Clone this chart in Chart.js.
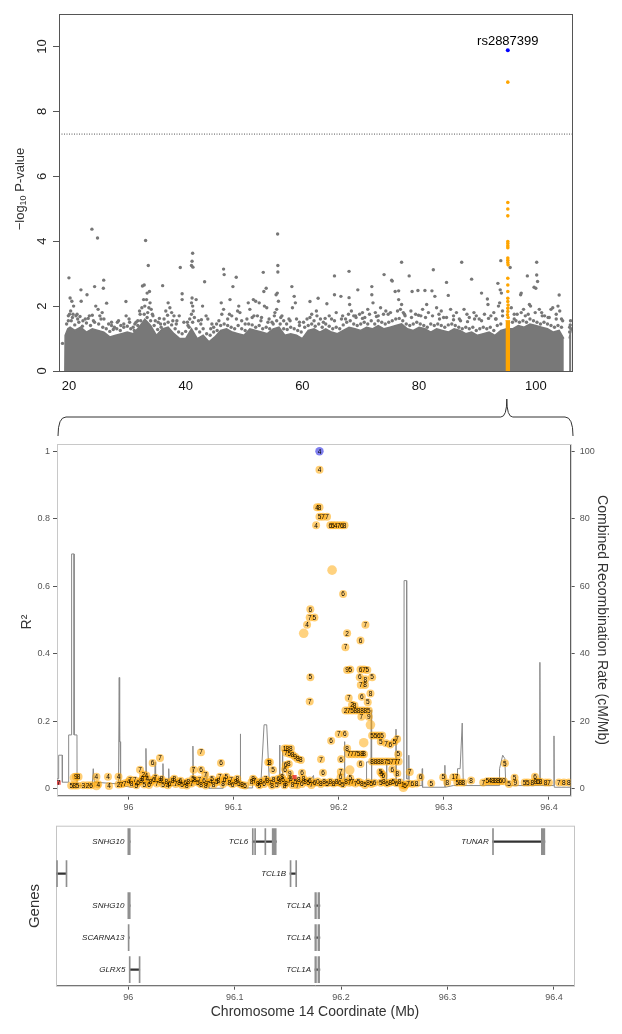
<!DOCTYPE html>
<html>
<head>
<meta charset="utf-8">
<script src="https://cdn.jsdelivr.net/npm/chart.js@4/dist/chart.umd.min.js"></script>
<style>
  body { margin: 0; background: #fff; }
  .panel { position: absolute; left: 0; }
</style>
</head>
<body>
<div class="panel" style="top:0"><canvas id="manhattan" width="622" height="440"></canvas></div>
<div class="panel" style="top:430px"><canvas id="regional" width="622" height="385"></canvas></div>
<div class="panel" style="top:815px"><canvas id="genes" width="622" height="219"></canvas></div>
<script>
// ---------- genome-wide panel (chr 14) ----------
const chrMin = 18.3, chrMax = 106.2;
const manhattanTicks = [20, 40, 60, 80, 100];
const logPTicks = [0, 2, 4, 6, 8, 10];
const gwsLine = 7.3;
const leadSnp = { name: "rs2887399", pos: 95.2, logP: 9.88 };

// upper edge of the solid cloud of SNPs (Mb, -log10 p)
const bandTop = [
  [19.3,0],[19.35,1.1],[19.8,1.3],[20.2,1.35],[21,1.25],[22,1.35],[23,1.2],[24,1.3],[25,1.25],[26,1.2],
  [27,1.05],[28,1.1],[29,1.15],[30,1.2],[31,1.15],[32,1.35],[33,1.6],[34,1.4],[35,1.1],[36,1.3],
  [37,1.35],[38,1.15],[39,1.0],[40,1.0],[41,1.3],[42,1.0],[43,1.1],[44,0.9],[45,1.05],[46,1.25],
  [47,1.3],[48,1.2],[49,1.15],[50,1.1],[51,1.3],[52,1.25],[53,1.2],[54,1.15],[55,1.3],[56,1.35],
  [57,1.1],[58,1.15],[59,1.1],[60,1.0],[61,1.25],[62,1.3],[63,1.2],[64,1.3],[65,1.2],[66,1.15],
  [67,1.25],[68,1.35],[69,1.3],[70,1.25],[71,1.35],[72,1.3],[73,1.4],[74,1.3],[75,1.35],[76,1.4],
  [77,1.45],[78,1.3],[79,1.25],[80,1.35],[81,1.3],[82,1.2],[83,1.3],[84,1.25],[85,1.2],[86,1.3],
  [87,1.25],[88,1.15],[89,1.2],[90,1.1],[91,1.15],[92,1.2],[93,1.1],[94,1.25],[95,1.3],[96,1.3],
  [97,1.4],[98,1.35],[99,1.45],[100,1.4],[101,1.35],[102,1.3],[103,1.2],[104,1.25],[104.8,1.0],
  [104.9,null],[105.6,null],[105.7,1.0],[106.1,1.3]
];

// SNPs just above the solid cloud
const edgeSnps = [
  [19.6,1.45],[20.4,1.55],[21.0,1.42],[21.7,1.5],[22.3,1.38],[23.0,1.48],[23.7,1.4],[24.4,1.5],[25.1,1.45],[25.8,1.35],
  [26.4,1.3],[27.0,1.22],[27.6,1.28],[28.2,1.3],[28.8,1.25],[29.4,1.45],[30.0,1.38],[30.6,1.3],[31.2,1.25],[31.8,1.4],
  [32.3,1.55],[32.9,1.75],[33.4,1.65],[34.0,1.55],[34.6,1.4],[35.2,1.28],[35.8,1.35],[36.4,1.45],[37.0,1.5],[37.6,1.42],
  [38.2,1.3],[38.8,1.2],[39.4,1.15],[40.0,1.22],[40.6,1.35],[41.2,1.5],[41.8,1.3],[42.4,1.2],[43.0,1.3],[43.6,1.15],
  [44.2,1.1],[44.8,1.2],[45.4,1.25],[46.0,1.4],[46.6,1.45],[47.2,1.4],[47.8,1.35],[48.4,1.3],[49.0,1.4],[49.6,1.3],
  [50.2,1.25],[50.8,1.45],[51.4,1.42],[52.0,1.35],[52.6,1.4],[53.2,1.3],[53.8,1.35],[54.4,1.3],[55.0,1.45],[55.6,1.55],
  [56.2,1.45],[56.8,1.3],[57.4,1.28],[58.0,1.35],[58.6,1.3],[59.2,1.25],[59.8,1.2],[60.4,1.35],[61.0,1.4],[61.6,1.45],
  [62.2,1.38],[62.8,1.45],[63.4,1.35],[64.0,1.45],[64.6,1.38],[65.2,1.3],[65.8,1.35],[66.4,1.3],[67.0,1.42],[67.6,1.5],
  [68.2,1.55],[68.8,1.45],[69.4,1.4],[70.0,1.45],[70.6,1.5],[71.2,1.45],[71.8,1.55],[72.4,1.45],[73.0,1.55],[73.6,1.5],
  [74.2,1.45],[74.8,1.5],[75.4,1.55],[76.0,1.6],[76.6,1.62],[77.2,1.55],[77.8,1.45],[78.4,1.4],[79.0,1.45],[79.6,1.5],
  [80.2,1.45],[80.8,1.4],[81.4,1.35],[82.0,1.45],[82.6,1.4],[83.2,1.45],[83.8,1.4],[84.4,1.35],[85.0,1.42],[85.6,1.45],
  [86.2,1.4],[86.8,1.35],[87.4,1.3],[88.0,1.35],[88.6,1.3],[89.2,1.35],[89.8,1.25],[90.4,1.3],[91.0,1.35],[91.6,1.3],
  [92.2,1.35],[92.8,1.25],[93.4,1.4],[94.0,1.45],[96.0,1.5],[96.6,1.55],[97.2,1.5],[97.8,1.55],[98.4,1.5],[99.0,1.6],
  [99.6,1.55],[100.2,1.5],[100.8,1.45],[101.4,1.5],[102.0,1.45],[102.6,1.4],[103.2,1.35],[103.8,1.4],[104.4,1.35],[105.8,1.35],
  [19.9,1.7],[20.7,1.75],[21.9,1.68],[23.3,1.62],[24.0,1.72],[25.5,1.6],[27.3,1.5],[28.5,1.55],[30.3,1.6],[31.5,1.5],
  [32.1,1.85],[33.7,1.95],[34.3,1.75],[35.5,1.62],[36.9,1.72],[38.5,1.55],[40.3,1.5],[41.5,1.65],[42.7,1.58],[44.5,1.45],
  [45.7,1.55],[47.5,1.75],[48.7,1.6],[50.5,1.6],[51.7,1.7],[53.0,1.65],[54.1,1.5],[55.3,1.8],[56.5,1.7],[57.9,1.55],
  [59.5,1.5],[61.3,1.65],[62.5,1.7],[63.9,1.62],[65.5,1.55],[66.7,1.6],[67.9,1.75],[69.1,1.7],[70.3,1.62],[71.5,1.75],
  [72.7,1.68],[73.9,1.75],[75.1,1.8],[76.3,1.85],[77.5,1.75],[78.7,1.65],[79.9,1.72],[81.1,1.65],[82.3,1.7],[83.5,1.6],
  [84.7,1.65],[85.9,1.58],[87.1,1.55],[88.3,1.52],[89.5,1.6],[90.7,1.55],[91.9,1.62],[93.1,1.6],[94.3,1.7],[96.3,1.75],
  [97.5,1.8],[98.7,1.75],[99.9,1.8],[101.1,1.7],[102.3,1.65],[103.5,1.6],[104.6,1.55],[105.95,1.55]
];

// SNPs standing out above the cloud
const bgSnps = [
  [18.9,0.85],[20.0,2.87],[20.2,2.25],[20.5,2.15],[20.8,2.0],[20.3,1.85],[20.1,1.75],[20.6,1.65],[19.9,1.55],
  [21.2,1.7],[21.5,1.6],[21.4,1.75],[22.06,2.5],[22.1,2.15],[22.4,1.55],[22.8,1.6],[23.1,2.35],[23.5,1.7],
  [23.94,4.37],[24.4,2.6],[24.9,4.1],[24.6,2.0],[25.0,1.9],[24.2,1.55],[25.3,1.7],[25.96,2.8],[25.9,2.55],
  [25.7,1.8],[26.0,1.6],[26.46,2.09],[26.8,1.45],[27.3,1.4],[27.8,1.35],[28.3,1.5],[28.9,1.4],[29.4,1.35],
  [29.77,2.14],[29.8,1.7],[30.4,1.5],[31.0,1.35],[31.3,1.45],[31.8,1.55],[32.2,1.75],[32.6,2.62],[32.9,2.65],
  [32.5,1.95],[33.14,4.02],[33.6,3.25],[33.4,2.4],[33.8,2.45],[33.3,2.2],[32.8,2.2],[33.0,2.0],[33.9,2.1],
  [34.1,1.9],[33.5,1.8],[34.4,1.7],[34.8,1.55],[35.3,1.5],[35.7,1.45],[36.06,2.63],[37.0,2.1],[37.3,1.95],
  [37.6,1.8],[38.0,1.7],[36.6,1.85],[36.3,1.6],[37.8,1.55],[38.4,1.45],[38.9,1.7],[39.08,3.19],[39.4,2.38],
  [39.4,2.2],[39.7,1.5],[40.4,1.4],[40.7,1.6],[41.2,3.63],[41.1,3.38],[41.0,3.25],[41.25,3.2],[41.1,2.25],
  [41.0,2.1],[41.2,2.0],[41.3,1.85],[41.0,1.75],[41.8,2.2],[42.2,1.55],[42.6,1.45],[43.25,2.75],[42.9,2.0],
  [43.5,1.7],[43.8,1.6],[44.3,1.3],[44.8,1.35],[45.3,1.45],[46.1,2.1],[46.5,1.9],[46.2,1.75],[46.5,3.14],
  [46.6,2.97],[47.6,2.2],[47.2,1.6],[47.9,1.7],[48.1,2.6],[48.67,2.89],[49.1,2.0],[49.3,1.8],[48.9,1.85],
  [49.6,1.55],[50.2,1.45],[50.73,2.1],[51.6,2.2],[51.0,1.9],[52.0,2.15],[52.6,2.1],[51.4,1.65],[52.3,1.7],
  [52.9,1.55],[53.3,3.04],[53.4,2.45],[53.8,2.55],[53.5,2.0],[53.9,1.95],[54.3,1.6],[54.8,1.5],[55.2,1.7],
  [55.76,4.22],[55.8,3.25],[55.8,3.05],[55.7,2.4],[55.5,2.35],[55.9,2.15],[55.6,1.9],[56.3,1.65],[56.8,1.55],
  [57.3,1.45],[57.7,1.6],[58.2,2.6],[58.6,2.3],[58.8,2.1],[58.3,1.95],[59.0,1.6],[59.5,1.4],[60.2,1.5],
  [60.8,1.6],[61.3,2.14],[61.6,1.75],[62.0,1.55],[62.7,2.24],[62.4,1.85],[63.1,1.6],[63.6,1.5],[64.2,2.07],
  [64.6,1.7],[65.0,1.6],[65.5,2.93],[65.5,2.35],[65.8,1.8],[66.6,2.3],[66.9,1.7],[67.4,1.6],[68.0,3.07],
  [68.0,2.26],[68.1,2.05],[68.4,1.85],[68.8,1.7],[69.5,2.5],[69.2,1.65],[69.8,1.75],[70.3,1.8],[70.7,1.65],
  [71.2,1.9],[71.9,2.6],[71.9,2.35],[72.1,2.1],[72.5,1.8],[73.0,1.7],[73.4,1.95],[74.0,2.97],[74.3,1.85],
  [74.7,1.75],[75.3,2.8],[75.4,2.77],[75.9,2.45],[76.5,2.47],[77.0,3.35],[76.5,2.2],[77.0,2.05],[76.8,1.9],
  [77.3,1.8],[77.6,1.7],[78.3,2.93],[78.6,1.85],[78.8,2.45],[79.4,1.75],[79.8,2.48],[80.3,1.7],[80.6,1.9],
  [81.0,2.48],[81.3,2.05],[81.6,1.8],[82.2,2.47],[82.44,3.12],[82.7,2.3],[83.0,1.95],[83.4,1.75],[83.8,1.85],
  [84.2,1.65],[84.7,2.73],[85.0,2.33],[85.4,1.9],[85.9,1.7],[86.4,1.8],[86.9,1.6],[87.3,3.35],[87.7,1.9],
  [88.2,1.75],[88.6,1.65],[89.0,2.83],[89.4,1.8],[89.8,1.7],[90.3,1.6],[90.7,2.4],[91.2,1.75],[91.7,2.22],
  [91.8,2.05],[92.3,1.7],[92.8,1.8],[93.2,1.6],[93.5,2.7],[93.6,2.0],[93.9,2.5],[94.0,3.4],[94.1,2.4],
  [93.8,2.1],[94.3,1.85],[95.6,3.19],[95.8,1.95],[96.3,1.6],[96.8,1.75],[97.4,2.35],[97.5,2.4],[97.9,1.9],
  [98.2,1.7],[98.55,2.93],[98.9,2.05],[99.1,2.0],[99.7,2.58],[100.15,3.35],[100.15,2.96],[100.3,2.76],
  [100.0,2.55],[100.6,1.9],[101.0,1.8],[101.5,1.7],[102.1,1.65],[102.6,1.9],[102.9,1.95],[103.5,1.75],
  [104.0,2.34],[103.8,2.0],[104.1,1.85],[104.4,1.6],[105.9,1.42],[106.0,1.3],[105.8,1.2]
];

// SNPs of the TCL1A region (orange)
const hitSnps = [
  [95.2,8.9],[95.2,5.19],[95.2,4.99],[95.2,4.78],[95.2,3.99],[95.2,3.93],[95.2,3.86],[95.2,3.8],
  [95.2,3.48],[95.2,3.41],[95.2,3.34],[95.25,3.27],[95.2,2.86],[95.2,2.65],[95.2,2.45],[95.2,2.24],
  [95.2,2.14],[95.25,2.03],[95.2,1.93],[95.2,1.83],[95.15,1.73],[95.25,1.65]
];
const hitColumn = [[94.8,1.55],[95.6,1.55]];

// ---------- regional panel ----------
const regionMin = 95.932, regionMax = 96.4207;
const regionTicks = [96, 96.1, 96.2, 96.3, 96.4];
const r2Ticks = [0, 0.2, 0.4, 0.6, 0.8, 1];
const recombTicks = [0, 20, 40, 60, 80, 100];
const leadLd = { pos: 96.1817, r2: 1.0, label: "4" };

// [position Mb, r2, annotation]
const ldSnps = [
  [95.9455,0.010,'5'],[95.9485,0.010,'8'],[95.9515,0.010,'5'],[95.9500,0.036,'9'],[95.9525,0.036,'8'],
  [95.9570,0.011,'3'],[95.9610,0.011,'2'],[95.9645,0.011,'6'],[95.9695,0.036,'4'],[95.9712,0.014,'4'],
  [95.9805,0.036,'4'],[95.9815,0.009,'4'],[95.9905,0.036,'4'],[95.9905,0.013,'2'],[95.9935,0.014,'7'],
  [95.9965,0.017,'7'],
  [96.000,0.021,'4'],[96.003,0.015,'8'],[96.006,0.026,'7'],[96.009,0.018,'6'],[96.012,0.024,'8'],
  [96.015,0.013,'5'],[96.018,0.030,'4'],[96.021,0.020,'8'],[96.024,0.027,'6'],[96.027,0.016,'7'],
  [96.030,0.023,'8'],[96.033,0.014,'5'],[96.036,0.021,'8'],[96.039,0.017,'6'],[96.042,0.025,'8'],
  [96.045,0.015,'7'],[96.048,0.019,'8'],[96.051,0.012,'5'],[96.054,0.018,'6'],[96.057,0.022,'8'],
  [96.060,0.016,'7'],[96.063,0.026,'8'],[96.066,0.019,'5'],[96.069,0.014,'8'],[96.072,0.024,'6'],
  [96.075,0.017,'7'],[96.078,0.021,'4'],[96.081,0.013,'8'],[96.084,0.020,'5'],[96.087,0.036,'7'],
  [96.090,0.015,'8'],[96.093,0.036,'5'],[96.096,0.019,'8'],[96.099,0.014,'6'],[96.102,0.022,'8'],
  [96.105,0.016,'5'],[96.108,0.012,'8'],[96.111,0.010,'5'],[96.117,0.020,'8'],[96.120,0.025,'7'],
  [96.123,0.017,'8'],[96.126,0.022,'8'],[96.129,0.015,'6'],[96.132,0.024,'8'],[96.135,0.018,'7'],
  [96.138,0.027,'8'],[96.141,0.013,'5'],[96.144,0.021,'8'],[96.147,0.028,'6'],[96.150,0.017,'8'],
  [96.153,0.024,'7'],[96.156,0.012,'8'],[96.159,0.020,'5'],[96.162,0.026,'8'],[96.165,0.015,'6'],
  [96.168,0.022,'8'],[96.171,0.018,'5'],[96.174,0.012,'7'],
  [96.0015,0.028,'7'],[96.0075,0.011,'5'],[96.0135,0.031,'8'],[96.0195,0.012,'6'],[96.0255,0.033,'7'],
  [96.0315,0.029,'8'],[96.0375,0.011,'4'],[96.0435,0.030,'8'],[96.0495,0.024,'6'],[96.0555,0.010,'8'],
  [96.0615,0.030,'5'],[96.0675,0.028,'7'],[96.0735,0.010,'8'],[96.0795,0.029,'5'],[96.0855,0.025,'8'],
  [96.0915,0.028,'6'],[96.0975,0.027,'7'],[96.1035,0.030,'8'],[96.1185,0.030,'8'],[96.1245,0.011,'5'],
  [96.1305,0.029,'7'],[96.1365,0.010,'8'],[96.1425,0.030,'6'],[96.1485,0.011,'8'],[96.1545,0.031,'5'],
  [96.1605,0.011,'7'],[96.1665,0.030,'8'],[96.1725,0.025,'6'],
  [96.011,0.057,'7'],[96.014,0.043,'2'],[96.023,0.077,'6'],[96.030,0.092,'7'],[96.017,0.040,'4'],
  [96.069,0.109,'7'],[96.062,0.057,'7'],[96.069,0.057,'6'],[96.073,0.043,'7'],[96.088,0.077,'6'],
  [96.133,0.079,'1'],[96.1345,0.079,'8'],[96.1375,0.056,'5'],
  [96.1485,0.120,'1'],[96.151,0.120,'8'],[96.1545,0.120,'8'],[96.150,0.107,'7'],[96.153,0.104,'5'],
  [96.156,0.101,'8'],[96.1585,0.095,'9'],[96.161,0.089,'8'],[96.164,0.086,'8'],[96.1495,0.071,'6'],
  [96.1525,0.074,'8'],[96.149,0.058,'6'],[96.1535,0.046,'9'],[96.1651,0.048,'6'],[96.146,0.035,'8'],
  [96.177,0.018,'6'],[96.180,0.022,'0'],[96.183,0.015,'8'],[96.186,0.020,'8'],[96.189,0.017,'5'],
  [96.192,0.021,'8'],[96.195,0.016,'8'],[96.198,0.020,'8'],[96.201,0.018,'6'],[96.204,0.014,'5'],
  [96.207,0.022,'8'],[96.210,0.018,'7'],[96.213,0.020,'7'],[96.216,0.016,'7'],[96.219,0.021,'5'],
  [96.222,0.017,'8'],[96.225,0.012,'5'],[96.228,0.019,'8'],[96.231,0.015,'5'],[96.234,0.018,'6'],
  [96.240,0.018,'5'],[96.243,0.020,'8'],[96.246,0.016,'6'],[96.249,0.019,'8'],[96.252,0.021,'5'],
  [96.255,0.017,'6'],[96.258,0.020,'8'],[96.261,0.012,'1'],[96.263,0.010,'5'],[96.266,0.016,'7'],
  [96.270,0.015,'6'],[96.274,0.016,'8'],[96.288,0.017,'5'],
  [96.1832,0.088,'7'],[96.2023,0.088,'6'],[96.185,0.048,'6'],[96.2020,0.051,'7'],[96.2207,0.074,'6'],
  [96.2018,0.035,'6'],[96.211,0.032,'5'],[96.2397,0.050,'5'],[96.2410,0.045,'5'],[96.2425,0.040,'6'],
  [96.251,0.058,'6'],[96.2557,0.046,'8'],[96.2676,0.050,'7'],[96.2778,0.035,'6'],[96.2994,0.035,'5'],
  [96.2095,0.103,'7'],[96.2127,0.103,'7'],[96.2159,0.103,'7'],[96.2190,0.103,'5'],[96.2222,0.103,'8'],
  [96.2240,0.103,'8'],[96.2566,0.103,'5'],
  [96.2318,0.081,'8'],[96.2350,0.081,'8'],[96.2381,0.081,'8'],[96.2413,0.081,'8'],[96.2445,0.081,'7'],
  [96.2476,0.081,'5'],[96.2508,0.081,'7'],[96.2540,0.081,'7'],[96.2570,0.081,'7'],[96.2080,0.120,'8'],
  [96.1928,0.143,'6'],[96.2000,0.163,'7'],[96.2057,0.163,'6'],
  [96.2318,0.158,'5'],[96.2350,0.158,'5'],[96.2381,0.158,'6'],[96.2413,0.158,'5'],
  [96.2400,0.140,'5'],[96.2450,0.135,'7'],[96.2490,0.132,'6'],[96.2530,0.140,'5'],[96.2556,0.148,'7'],
  [96.2216,0.214,'7'],[96.2286,0.214,'9'],
  [96.2064,0.232,'2'],[96.2095,0.232,'7'],[96.2127,0.232,'5'],[96.2159,0.232,'8'],[96.2190,0.232,'8'],
  [96.2222,0.232,'8'],[96.2254,0.232,'8'],[96.2286,0.232,'5'],
  [96.2127,0.249,'2'],[96.2150,0.247,'8'],[96.2095,0.269,'7'],[96.2220,0.273,'6'],[96.2276,0.257,'5'],
  [96.2302,0.283,'8'],[96.2210,0.308,'7'],[96.2250,0.308,'8'],
  [96.2200,0.331,'6'],[96.2254,0.325,'8'],[96.2318,0.331,'5'],
  [96.2080,0.352,'9'],[96.2110,0.354,'5'],[96.2207,0.354,'6'],[96.2240,0.354,'7'],[96.2272,0.352,'5'],
  [96.2064,0.420,'7'],[96.2207,0.440,'6'],[96.2080,0.461,'2'],[96.2254,0.486,'7'],[96.2042,0.577,'6'],
  [96.1730,0.331,'5'],[96.1724,0.259,'7'],[96.1730,0.532,'6'],[96.1724,0.508,'7'],[96.1769,0.508,'5'],
  [96.1699,0.486,'4'],
  [96.1817,0.945,'4'],[96.1794,0.834,'4'],[96.1817,0.834,'8'],[96.1817,0.806,'5'],[96.1850,0.806,'7'],
  [96.1889,0.806,'7'],[96.1785,0.781,'4'],[96.1920,0.781,'6'],[96.1945,0.781,'5'],[96.1970,0.781,'4'],
  [96.2000,0.781,'7'],[96.2030,0.781,'6'],[96.2055,0.781,'8'],
  [96.3032,0.019,'8'],[96.3090,0.035,'1'],[96.3120,0.035,'7'],[96.3128,0.019,'5'],[96.3157,0.019,'8'],
  [96.3185,0.019,'8'],[96.3260,0.025,'8'],[96.3375,0.019,'7'],[96.3413,0.023,'5'],[96.3440,0.023,'4'],
  [96.3465,0.023,'8'],[96.3490,0.023,'8'],[96.3515,0.023,'8'],[96.3540,0.023,'6'],[96.3571,0.023,'0'],
  [96.3581,0.076,'5'],[96.3620,0.015,'5'],[96.3673,0.033,'5'],[96.3680,0.018,'9'],[96.3769,0.019,'5'],
  [96.3800,0.019,'5'],[96.3842,0.019,'8'],[96.3867,0.036,'6'],[96.3873,0.021,'8'],[96.3897,0.021,'6'],
  [96.3920,0.021,'8'],[96.3968,0.019,'8'],[96.4000,0.019,'7'],[96.4095,0.019,'7'],[96.4142,0.019,'8'],
  [96.4190,0.019,'8']
];
// larger, unannotated SNPs
const ldBig = [
  [95.9485,0.033],[95.9695,0.010],[96.2615,0.005],[96.2105,0.056],[96.2238,0.137],
  [96.2302,0.190],[96.1667,0.461],[96.1937,0.648]
];
const ldRed = [[95.9335,0.019],[96.158,0.035]];

// recombination rate (cM/Mb)
const recomb = [
  [95.932,3],[95.9335,3],[95.9336,10],[95.937,10],[95.9371,2],[95.943,2],[95.9431,16],[95.9458,16],
  [95.9459,69.6],[95.9482,69.6],[95.9483,16],[95.951,16],[95.9511,1],[95.9655,1],[95.9665,6],[95.9675,2],
  [95.9905,1.5],[95.9912,33],[95.9916,14],[95.992,14],[95.9925,1],[96.003,0.5],[96.012,1.5],[96.0162,1.5],
  [96.0166,12],[96.0172,2],[96.025,2],[96.0254,8],[96.0258,2],[96.0324,2],[96.0328,7.5],[96.0332,1.5],
  [96.038,1.5],[96.0383,6],[96.0387,1],[96.061,1],[96.0613,12.7],[96.0617,4],[96.065,1.5],[96.0742,1.5],
  [96.0745,5],[96.0748,1.5],[96.0765,1.5],[96.0766,0.2],[96.09,0.2],[96.0901,1.5],[96.1061,1.5],
  [96.1064,16.3],[96.1067,1.5],[96.108,1.5],[96.1081,0.3],[96.118,0.3],[96.1181,1.5],[96.126,2],
  [96.129,19],[96.1315,19],[96.134,2],[96.1375,3],[96.1435,3],[96.1438,13],[96.1441,4],[96.1462,4],
  [96.1465,11.6],[96.1468,3],[96.152,2],[96.16,2.5],[96.174,3],[96.176,4],[96.177,1],[96.2052,1],
  [96.2055,14],[96.2058,2],[96.2262,2],[96.2265,8],[96.2295,8],[96.2307,8],[96.231,23.4],[96.2313,2],
  [96.2452,2],[96.2455,8],[96.2458,2],[96.2542,2],[96.2545,17.7],[96.2548,2],[96.262,2],[96.2622,61.7],
  [96.2645,61.7],[96.2647,3],[96.2664,3],[96.2667,10],[96.267,1],[96.2792,1],[96.2795,6],[96.2798,0.5],
  [96.3007,0.5],[96.301,7],[96.3013,0.5],[96.309,1],[96.3128,1],[96.313,6],[96.3155,6],[96.3175,19.5],
  [96.3185,1],[96.3525,1],[96.353,6],[96.356,10],[96.358,9],[96.359,1],[96.3911,1],[96.3914,37.5],
  [96.3917,1],[96.4045,1],[96.4048,15.7],[96.4051,0.5],[96.4207,0.5]
];

// ---------- gene track ----------
const geneMin = 95.932, geneMax = 96.4189;
const geneTicks = [96, 96.1, 96.2, 96.3, 96.4];
// [row, start, end, name]
const genes = [
  [1,96.0,96.0016,'SNHG10'],[1,96.1165,96.139,'TCL6'],[1,96.3425,96.3915,'TUNAR'],
  [2,95.9327,95.942,''],[2,96.152,96.158,'TCL1B'],
  [3,96.0,96.0016,'SNHG10'],[3,96.1755,96.18,'TCL1A'],
  [4,96.0,96.0008,'SCARNA13'],[4,96.1755,96.18,'TCL1A'],
  [5,96.001,96.0107,'GLRX5'],[5,96.1755,96.18,'TCL1A']
];
// [row, start, end]
const exons = [
  [1,95.9995,96.0018],[1,96.1165,96.1172],[1,96.1187,96.1194],[1,96.1283,96.129],[1,96.1352,96.139],
  [1,96.3423,96.343],[1,96.3882,96.3915],
  [2,95.9325,95.9332],[2,95.9414,95.9421],[2,96.152,96.1527],[2,96.1573,96.1582],
  [3,95.9995,96.0018],[3,96.1753,96.1768],[3,96.1782,96.1798],
  [4,95.9998,96.0005],[4,96.1753,96.1768],[4,96.1782,96.1798],
  [5,96.0008,96.0014],[5,96.0101,96.0108],[5,96.1753,96.1768],[5,96.1782,96.1798]
];

Chart.defaults.font.family = "'Liberation Sans', Arial, Helvetica, sans-serif";
Chart.defaults.animation = false;
Chart.defaults.events = [];
Chart.defaults.plugins.legend.display = false;
Chart.defaults.plugins.tooltip.enabled = false;

const FONT = "'Liberation Sans', Arial, sans-serif";
const xy = arr => arr.map(([x, y]) => ({ x, y }));
const setTicks = list => scale => { scale.ticks = list.map(v => ({ value: v })); };

function rotatedText(ctx, text, x, y, angle, font, color) {
  ctx.save();
  ctx.translate(x, y);
  ctx.rotate(angle);
  ctx.font = font;
  ctx.fillStyle = color;
  ctx.textAlign = "center";
  ctx.textBaseline = "middle";
  ctx.fillText(text, 0, 0);
  ctx.restore();
}

// ---------- chart 1 ----------
const manhattanDecor = {
  id: "manhattanDecor",
  afterDraw(chart) {
    const { ctx, chartArea: a, scales: { x, y } } = chart;
    ctx.save();
    ctx.strokeStyle = "#555";
    ctx.lineWidth = 1;
    ctx.strokeRect(a.left + 0.5, a.top + 0.5, a.width, a.height);

    // rotated y tick labels, R style
    logPTicks.forEach(v => rotatedText(ctx, String(v), 42, y.getPixelForValue(v), -Math.PI / 2, "13px " + FONT, "#222"));

    // lead SNP name
    ctx.font = "13px " + FONT;
    ctx.fillStyle = "#000";
    ctx.textAlign = "center";
    ctx.textBaseline = "alphabetic";
    ctx.fillText(leadSnp.name, x.getPixelForValue(leadSnp.pos), y.getPixelForValue(leadSnp.logP) - 5);

    // y title: -log10 P-value
    ctx.translate(20, 189);
    ctx.rotate(-Math.PI / 2);
    const big = "13px " + FONT, small = "9px " + FONT;
    ctx.font = big; const w1 = ctx.measureText("\u2212log").width, w3 = ctx.measureText(" P-value").width;
    ctx.font = small; const w2 = ctx.measureText("10").width;
    let sx = -(w1 + w2 + w3) / 2;
    ctx.fillStyle = "#333";
    ctx.textAlign = "left";
    ctx.textBaseline = "middle";
    ctx.font = big; ctx.fillText("\u2212log", sx, 0); sx += w1;
    ctx.font = small; ctx.fillText("10", sx, 4); sx += w2;
    ctx.font = big; ctx.fillText(" P-value", sx, 0);
    ctx.restore();

    // brace pointing at the zoomed region
    const L = a.left - 1, R = a.right + 1, T = x.getPixelForValue(leadSnp.pos) - 1;
    const yb = 417, yEnd = 436, yTip = 399;
    ctx.save();
    ctx.strokeStyle = "#333";
    ctx.lineWidth = 1;
    ctx.beginPath();
    ctx.moveTo(L, yEnd);
    ctx.quadraticCurveTo(L, yb, L + 8, yb);
    ctx.lineTo(T - 6, yb);
    ctx.quadraticCurveTo(T, yb, T, yTip);
    ctx.quadraticCurveTo(T, yb, T + 6, yb);
    ctx.lineTo(R - 8, yb);
    ctx.quadraticCurveTo(R, yb, R, yEnd);
    ctx.stroke();
    ctx.restore();
  }
};

new Chart(document.getElementById("manhattan"), {
  type: "scatter",
  data: {
    datasets: [
      { data: [{ x: leadSnp.pos, y: leadSnp.logP }], backgroundColor: "#0000ff", pointRadius: 2, borderWidth: 0 },
      { data: xy(hitSnps), backgroundColor: "#ffa500", pointRadius: 1.8, borderWidth: 0 },
      { type: "line", data: xy(hitColumn), fill: "origin", backgroundColor: "#ffa500", borderColor: "#ffa500", borderWidth: 1, pointRadius: 0 },
      { data: xy(bgSnps), backgroundColor: "#777", pointRadius: 1.7, borderWidth: 0 },
      { data: xy(edgeSnps), backgroundColor: "#777", pointRadius: 1.7, borderWidth: 0 },
      { type: "line", data: xy(bandTop), fill: "origin", backgroundColor: "#787878", borderColor: "#787878", borderWidth: 1.5, pointRadius: 0, spanGaps: false },
      { type: "line", data: xy([[chrMin, gwsLine], [chrMax, gwsLine]]), borderColor: "#555", borderDash: [1, 1.5], borderWidth: 1, pointRadius: 0, fill: false }
    ]
  },
  options: {
    responsive: false,
    layout: { padding: { left: 0, right: 50, top: 14, bottom: 39 } },
    scales: {
      x: {
        type: "linear", min: chrMin, max: chrMax,
        afterBuildTicks: setTicks(manhattanTicks),
        afterFit: s => { s.height = 30; },
        ticks: { color: "#111", font: { size: 13 }, padding: 8, autoSkip: false, maxRotation: 0 },
        grid: { drawOnChartArea: false, drawTicks: false },
        border: { color: "#555" }
      },
      y: {
        min: 0, max: 11,
        afterBuildTicks: setTicks(logPTicks),
        afterFit: s => { s.width = 59; },
        ticks: { display: false },
        grid: { drawOnChartArea: false, tickLength: 6, color: "#555" },
        border: { color: "#555" }
      }
    }
  },
  plugins: [manhattanDecor]
});

// ---------- chart 2 ----------
const regionalDecor = {
  id: "regionalDecor",
  beforeDatasetsDraw(chart) {
    const { ctx, chartArea: a } = chart;
    ctx.save();
    ctx.strokeStyle = "#c8c8c8";
    ctx.lineWidth = 1;
    ctx.strokeRect(a.left + 0.5, a.top + 0.5, a.width, a.height);
    ctx.restore();
  },
  afterDatasetsDraw(chart) {
    const { ctx } = chart;
    ctx.save();
    ctx.font = "6.5px " + FONT;
    ctx.fillStyle = "#000";
    ctx.textAlign = "center";
    ctx.textBaseline = "middle";
    chart.data.datasets.forEach((ds, i) => {
      if (!ds.pointLabels) return;
      chart.getDatasetMeta(i).data.forEach((pt, j) => {
        const t = ds.pointLabels[j];
        if (t) ctx.fillText(t, pt.x, pt.y + 0.5);
      });
    });
    ctx.restore();
    rotatedText(ctx, "R\u00b2", 27, 192, -Math.PI / 2, "14px " + FONT, "#333");
    rotatedText(ctx, "Combined Recombination Rate (cM/Mb)", 602, 190, Math.PI / 2, "14px " + FONT, "#333");
  }
};

new Chart(document.getElementById("regional"), {
  type: "scatter",
  data: {
    datasets: [
      { data: [{ x: leadLd.pos, y: leadLd.r2 }], pointLabels: [leadLd.label], backgroundColor: "rgba(60,60,230,0.65)", pointRadius: 4.2, borderWidth: 0, order: 0 },
      { data: xy(ldRed), pointLabels: ["7", ""], backgroundColor: "rgba(225,30,30,0.75)", pointStyle: "rect", pointRadius: 3, borderWidth: 0, order: 1 },
      { data: ldSnps.map(([x, y]) => ({ x, y })), pointLabels: ldSnps.map(s => s[2]), backgroundColor: "rgba(255,165,0,0.55)", pointRadius: 4, borderWidth: 0, order: 2 },
      { data: xy(ldBig), backgroundColor: "rgba(255,165,0,0.5)", pointRadius: 4.8, borderWidth: 0, order: 3 },
      { type: "line", yAxisID: "yR", data: xy(recomb), borderColor: "#8a8a8a", borderWidth: 1, pointRadius: 0, fill: false, order: 9 }
    ]
  },
  options: {
    responsive: false,
    layout: { padding: { left: 0, right: 0, top: 14, bottom: 0 } },
    scales: {
      x: {
        type: "linear", min: regionMin, max: regionMax,
        afterBuildTicks: setTicks(regionTicks),
        afterFit: s => { s.height = 19.3; },
        ticks: { color: "#555", font: { size: 9 }, padding: 2, autoSkip: false, maxRotation: 0, callback: v => String(v) },
        grid: { drawOnChartArea: false, tickLength: 4, color: "#555" },
        border: { color: "#555" }
      },
      y: {
        position: "left", min: -0.02, max: 1.0216,
        afterBuildTicks: setTicks(r2Ticks),
        afterFit: s => { s.width = 57; },
        ticks: { color: "#555", font: { size: 9 }, padding: 3, callback: v => String(v) },
        grid: { drawOnChartArea: false, tickLength: 4, color: "#555" },
        border: { color: "#999" }
      },
      yR: {
        position: "right", min: -2, max: 102.16,
        afterBuildTicks: setTicks(recombTicks),
        afterFit: s => { s.width = 51.3; },
        ticks: { color: "#555", font: { size: 9 }, padding: 5, callback: v => String(v) },
        grid: { drawOnChartArea: false, tickLength: 4, color: "#555" },
        border: { color: "#333" }
      }
    }
  },
  plugins: [regionalDecor]
});

// ---------- chart 3 ----------
const geneDecor = {
  id: "geneDecor",
  beforeDatasetsDraw(chart) {
    const { ctx, chartArea: a } = chart;
    ctx.save();
    ctx.strokeStyle = "#c4c4c4";
    ctx.lineWidth = 1;
    ctx.strokeRect(a.left + 0.5, a.top + 0.5, a.width, a.height);
    ctx.restore();
  },
  afterDraw(chart) {
    const { ctx, chartArea: a, scales: { x, y } } = chart;
    ctx.save();
    ctx.font = "italic 8px " + FONT;
    ctx.fillStyle = "#222";
    ctx.textAlign = "right";
    ctx.textBaseline = "middle";
    genes.forEach(([row, start, , name]) => {
      if (name) ctx.fillText(name, x.getPixelForValue(start) - 4, y.getPixelForValue(row));
    });
    ctx.restore();
    rotatedText(ctx, "Genes", 35, 91, -Math.PI / 2, "15px " + FONT, "#333");
    rotatedText(ctx, "Chromosome 14 Coordinate (Mb)", (a.left + a.right) / 2, 197, 0, "14px " + FONT, "#333");
  }
};

new Chart(document.getElementById("genes"), {
  type: "bar",
  data: {
    datasets: [
      { data: exons.map(([row, s, e]) => ({ y: row, x: [s, e] })), backgroundColor: "#8f8f8f", barThickness: 26, grouped: false, minBarLength: 1, order: 0 },
      { data: genes.map(([row, s, e]) => ({ y: row, x: [s, e] })), backgroundColor: "#333", barThickness: 1.5, grouped: false, order: 1 }
    ]
  },
  options: {
    responsive: false,
    indexAxis: "y",
    layout: { padding: { left: 56, right: 48, top: 10.7, bottom: 0 } },
    scales: {
      x: {
        type: "linear", position: "bottom", min: geneMin, max: geneMax,
        afterBuildTicks: setTicks(geneTicks),
        afterFit: s => { s.height = 48.3; },
        ticks: { color: "#555", font: { size: 9 }, padding: 2, autoSkip: false, maxRotation: 0, callback: v => String(v) },
        grid: { drawOnChartArea: false, tickLength: 4, color: "#555" },
        border: { color: "#555" }
      },
      y: { type: "linear", min: 0.5, max: 5.5, reverse: true, offset: false, display: false }
    }
  },
  plugins: [geneDecor]
});
</script>
</body>
</html>
